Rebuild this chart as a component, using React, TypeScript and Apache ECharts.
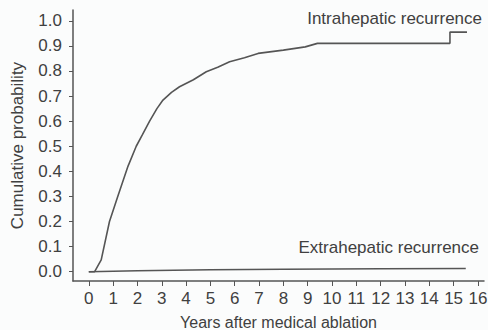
import React, { useEffect, useRef } from "react";
import * as echarts from "echarts";

const xTicks = [0, 1, 2, 3, 4, 5, 6, 7, 8, 9, 10, 11, 12, 13, 14, 15, 16];
const yTicks = [0, 0.1, 0.2, 0.3, 0.4, 0.5, 0.6, 0.7, 0.8, 0.9, 1.0];

const intrahepatic: [number, number][] = [
  [0, 0], [0.24, 0], [0.51, 0.047], [0.85, 0.2], [1.19, 0.3], [1.61, 0.42],
  [1.95, 0.5], [2.2, 0.545], [2.5, 0.6], [2.8, 0.65], [3.05, 0.684], [3.4, 0.715], [3.73, 0.737],
  [4.3, 0.765], [4.83, 0.797], [5.3, 0.815], [5.79, 0.837], [6.4, 0.853],
  [6.96, 0.87], [8.0, 0.883], [8.9, 0.896], [9.4, 0.91], [14.85, 0.91],
  [14.85, 0.955], [15.55, 0.955],
];

const extrahepatic: [number, number][] = [
  [0, 0], [2, 0.004], [5, 0.008], [8, 0.01], [12, 0.012], [15.5, 0.013],
];

const seriesNames = ["Intrahepatic recurrence", "Extrahepatic recurrence"];
const xTitle = "Years after medical ablation";
const yTitle = "Cumulative probability";

const FONT = "Liberation Sans, Arial, sans-serif";
const TEXT = "#404040";
const LINE = "#555555";

export default function App() {
  const ref = useRef<HTMLDivElement>(null);
  useEffect(() => {
    if (!ref.current) return;
    const chart = echarts.init(ref.current, undefined, { renderer: "svg" });
    chart.setOption({
      animation: false,
      backgroundColor: "#fbfcfc",
      grid: { left: 73, right: 4, top: 10, bottom: 49, containLabel: false, outerBoundsMode: "none" },
      xAxis: {
        type: "value",
        min: -0.65,
        max: 16.25,
        name: xTitle,
        nameLocation: "middle",
        nameGap: 33,
        nameTextStyle: { fontFamily: FONT, fontSize: 16, color: TEXT },
        axisLine: { show: true, onZero: false, lineStyle: { color: LINE, width: 1.5 } },
        axisTick: { show: true, length: 5, customValues: xTicks, lineStyle: { color: LINE } },
        axisLabel: {
          customValues: xTicks,
          margin: 9,
          fontFamily: FONT,
          fontSize: 17,
          color: TEXT,
        },
        splitLine: { show: false },
      },
      yAxis: {
        type: "value",
        min: -0.037,
        max: 1.043,
        name: yTitle,
        nameLocation: "middle",
        nameGap: 47,
        nameTextStyle: { fontFamily: FONT, fontSize: 17, color: TEXT },
        axisLine: { show: true, onZero: false, lineStyle: { color: LINE, width: 1.5 } },
        axisTick: { show: true, length: 4, customValues: yTicks, lineStyle: { color: LINE } },
        axisLabel: {
          customValues: yTicks,
          margin: 11,
          fontFamily: FONT,
          fontSize: 17,
          color: TEXT,
          formatter: (v: number) => v.toFixed(1),
        },
        splitLine: { show: false },
      },
      series: [
        {
          name: seriesNames[0],
          type: "line",
          data: intrahepatic,
          showSymbol: false,
          lineStyle: { color: LINE, width: 1.6 },
        },
        {
          name: seriesNames[1],
          type: "line",
          data: extrahepatic,
          showSymbol: false,
          lineStyle: { color: LINE, width: 1.6 },
        },
      ],
      graphic: [
        {
          type: "text",
          right: 6,
          top: 10,
          style: { text: seriesNames[0], fontFamily: FONT, fontSize: 17, fill: TEXT },
        },
        {
          type: "text",
          right: 9,
          top: 239,
          style: { text: seriesNames[1], fontFamily: FONT, fontSize: 17, fill: TEXT },
        },
      ],
    });
    return () => chart.dispose();
  }, []);
  return <div ref={ref} style={{ width: 488, height: 330, position: "absolute", left: 0, top: 0 }} />;
}
